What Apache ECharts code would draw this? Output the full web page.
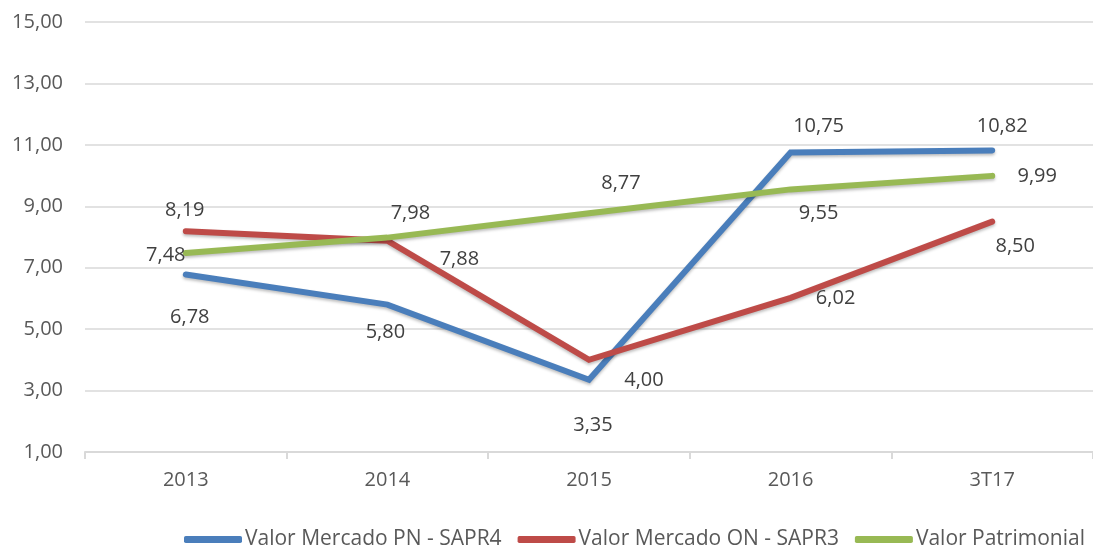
<!DOCTYPE html>
<html>
<head>
<meta charset="utf-8">
<script src="https://cdn.jsdelivr.net/npm/echarts@6/dist/echarts.min.js"></script>
<style>
    html, body { margin: 0; padding: 0; background: #fff; }
    #chart { width: 1093px; height: 546px; }
</style>
</head>
<body>
<div id="chart"></div>
<script>
const categories = ["2013", "2014", "2015", "2016", "3T17"];
const seriesNames = ["Valor Mercado PN - SAPR4", "Valor Mercado ON - SAPR3", "Valor Patrimonial"];
const valorPN = [6.78, 5.80, 3.35, 10.75, 10.82];
const valorON = [8.19, 7.88, 4.00, 6.02, 8.50];
const valorPatrimonial = [7.48, 7.98, 8.77, 9.55, 9.99];

// posição dos rótulos em relação ao ponto (px)
const offsetsPN = [[4, 43], [-2, 28], [4, 45], [28, -26], [10, -24]];
const offsetsON = [[-1, -21], [72, 19], [55, 20], [45, 0], [23, 25]];
const offsetsPat = [[-20, 2], [23, -24], [32, -30], [28, 24], [45, 0]];

const font = "Open Sans";

function fmt(v) {
    return v.toFixed(2).replace(".", ",");
}

function buildData(values, offsets) {
    return values.map(function (v, i) {
        return { value: v, label: { offset: offsets[i] } };
    });
}

function lineSeries(name, values, offsets, color) {
    return {
        name: name,
        type: "line",
        data: buildData(values, offsets),
        symbol: "circle",
        symbolSize: 1,
        showSymbol: true,
        itemStyle: { color: color },
        lineStyle: {
            color: color,
            width: 6,
            cap: "round",
            join: "miter",
            shadowColor: "rgba(0,0,0,0.25)",
            shadowBlur: 3,
            shadowOffsetY: 2
        },
        label: {
            show: true,
            position: "inside",
            color: "#404040",
            fontFamily: font,
            fontSize: 20,
            formatter: function (p) { return fmt(p.value); }
        },
        emphasis: { disabled: true },
        animation: false
    };
}

const chart = echarts.init(document.getElementById("chart"));
const option = {
    backgroundColor: "#ffffff",
    grid: {
        left: 85,
        top: 22,
        width: 1015,
        height: 430
    },
    legend: {
        left: 184,
        top: 529,
        itemWidth: 58,
        itemHeight: 7,
        itemGap: 16,
        icon: "roundRect",
        padding: 0,
        textStyle: {
            color: "#595959",
            fontFamily: font,
            fontSize: 21,
            padding: [0, 0, 0, -2]
        },
        data: seriesNames
    },
    xAxis: {
        type: "category",
        data: categories,
        boundaryGap: true,
        axisLine: { lineStyle: { color: "#d9d9d9", width: 2 } },
        axisTick: { show: true, length: 7, lineStyle: { color: "#d9d9d9", width: 2 } },
        axisLabel: {
            color: "#595959",
            fontFamily: font,
            fontSize: 20,
            margin: 18
        }
    },
    yAxis: {
        type: "value",
        min: 1,
        max: 15,
        interval: 2,
        axisLine: { show: false },
        axisTick: { show: false },
        splitLine: { lineStyle: { color: "#d9d9d9", width: 1.5 } },
        axisLabel: {
            color: "#595959",
            fontFamily: font,
            fontSize: 20,
            margin: 22,
            formatter: fmt
        }
    },
    series: [
        lineSeries(seriesNames[0], valorPN, offsetsPN, "#4a7ebb"),
        lineSeries(seriesNames[1], valorON, offsetsON, "#be4b48"),
        lineSeries(seriesNames[2], valorPatrimonial, offsetsPat, "#98b954")
    ]
};
chart.setOption(option);
</script>
</body>
</html>
